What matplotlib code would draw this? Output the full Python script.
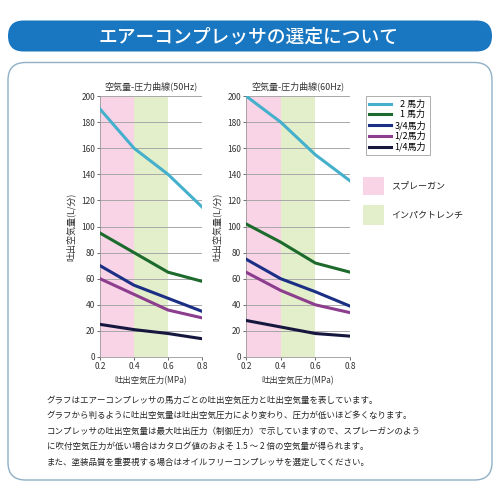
import numpy as np
import matplotlib.pyplot as plt
from matplotlib.patches import FancyBboxPatch, Rectangle
from matplotlib.lines import Line2D

plt.rcParams['font.family'] = ['Noto Sans CJK JP', 'DejaVu Sans']

# データ
pressure = [0.2, 0.4, 0.6, 0.8]
labels = ['   2 馬力', '   1 馬力', '3/4馬力', '1/2馬力', '1/4馬力']
colors = ['#44b0cc', '#1d6b2c', '#1b2f85', '#8c3d8e', '#16173f']
flow_50 = [
    [190, 160, 140, 115],
    [95, 80, 65, 58],
    [70, 55, 45, 35],
    [60, 48, 36, 30],
    [25, 21, 18, 14],
]
flow_60 = [
    [200, 180, 155, 135],
    [102, 88, 72, 65],
    [75, 60, 50, 39],
    [65, 51, 40, 34],
    [28, 23, 18, 16],
]
spray_range = (0.2, 0.4)
wrench_range = (0.4, 0.6)
pink = '#f9d4e7'
green = '#e3eeca'

fig = plt.figure(figsize=(5, 5), dpi=100)
fig.patch.set_facecolor('white')

# 見出し
head = FancyBboxPatch((0.016, 0.897), 0.968, 0.062, boxstyle='round,pad=0,rounding_size=0.031',
                      transform=fig.transFigure, facecolor='#1976c0', edgecolor='none')
fig.add_artist(head)
fig.text(0.497, 0.927, 'エアーコンプレッサの選定について', color='white', fontsize=13.5,
         fontweight='medium', ha='center', va='center')

# 枠
frame = FancyBboxPatch((0.016, 0.04), 0.968, 0.835, boxstyle='round,pad=0,rounding_size=0.035',
                       transform=fig.transFigure, facecolor='none', edgecolor='#8fb0c6', lw=1.0)
fig.add_artist(frame)


def draw(ax, data, title):
    ax.axvspan(*spray_range, color=pink, lw=0, zorder=0)
    ax.axvspan(*wrench_range, color=green, lw=0, zorder=0)
    for y in range(20, 201, 20):
        ax.axhline(y, color='#a8a8a8', lw=0.7, zorder=1)
    for vals, c in zip(data, colors):
        ax.plot(pressure, vals, color=c, lw=2.2, zorder=3)
    ax.set_xlim(0.2, 0.8)
    ax.set_ylim(0, 200)
    ax.set_xticks(pressure)
    ax.set_xticklabels(['0.2', '0.4', '0.6', '0.8'])
    ax.set_yticks(range(0, 201, 20))
    ax.tick_params(labelsize=6, colors='#333333', length=2, width=0.5, pad=1.5)
    for s in ['top', 'right']:
        ax.spines[s].set_visible(False)
    for s in ['left', 'bottom']:
        ax.spines[s].set_color('#999999')
        ax.spines[s].set_linewidth(0.6)
    ax.set_title(title, fontsize=6.5, color='#333333', pad=5)
    ax.set_xlabel('吐出空気圧力(MPa)', fontsize=6, color='#333333', labelpad=4)
    ax.set_ylabel('吐出空気量(L/分)', fontsize=6.5, color='#333333', labelpad=4)


ax1 = fig.add_axes([0.2, 0.286, 0.204, 0.522])
draw(ax1, flow_50, '空気量-圧力曲線(50Hz)')
ax2 = fig.add_axes([0.492, 0.286, 0.208, 0.522])
draw(ax2, flow_60, '空気量-圧力曲線(60Hz)')

# 凡例
handles = [Line2D([0], [0], color=c, lw=2.2) for c in colors]
leg = fig.legend(handles, labels, loc='upper left', bbox_to_anchor=(0.722, 0.817),
                 fontsize=6.5, frameon=True, fancybox=False, handlelength=2.4,
                 handletextpad=0.4, borderpad=0.4, labelspacing=0.15)
leg.get_frame().set_edgecolor('#888888')
leg.get_frame().set_linewidth(0.6)

fig.add_artist(Rectangle((0.726, 0.61), 0.042, 0.036, transform=fig.transFigure,
                         facecolor=pink, edgecolor='none'))
fig.text(0.782, 0.628, 'スプレーガン', fontsize=6.5, va='center', color='#222222')
fig.add_artist(Rectangle((0.726, 0.55), 0.042, 0.04, transform=fig.transFigure,
                         facecolor=green, edgecolor='none'))
fig.text(0.782, 0.57, 'インパクトレンチ', fontsize=6.5, va='center', color='#222222')

# 説明文
body = [
    'グラフはエアーコンプレッサの馬力ごとの吐出空気圧力と吐出空気量を表しています。',
    'グラフから判るように吐出空気量は吐出空気圧力により変わり、圧力が低いほど多くなります。',
    'コンプレッサの吐出空気量は最大吐出圧力（制御圧力）で示していますので、スプレーガンのよう',
    'に吹付空気圧力が低い場合はカタログ値のおよそ 1.5 ～ 2 倍の空気量が得られます。',
    'また、塗装品質を重要視する場合はオイルフリーコンプレッサを選定してください。',
]
for i, line in enumerate(body):
    fig.text(0.094, 0.2 - i * 0.031, line, fontsize=6.1, color='#222222', va='center')

fig.savefig('out.png', dpi=100)
